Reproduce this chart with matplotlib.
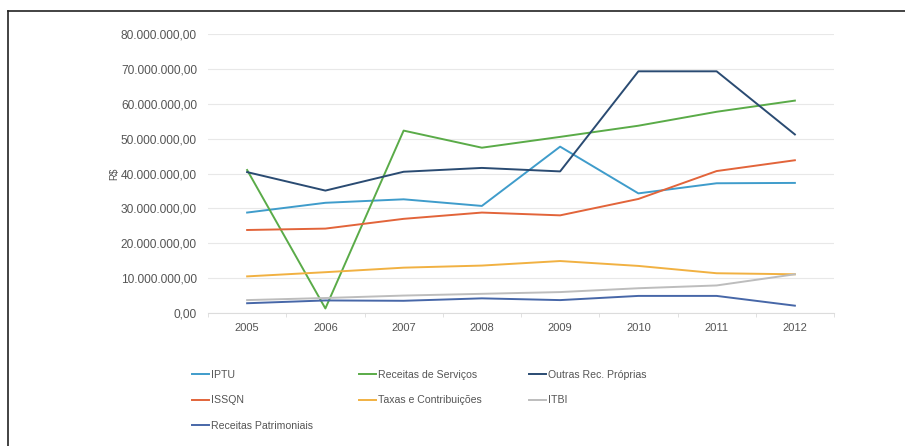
import matplotlib.pyplot as plt
from matplotlib.lines import Line2D
from matplotlib.ticker import FuncFormatter, FixedLocator
import numpy as np

plt.rcParams['font.family'] = ['Liberation Sans', 'DejaVu Sans']

# data (R$)
anos = ['2005', '2006', '2007', '2008', '2009', '2010', '2011', '2012']
iptu = [28.8e6, 31.6e6, 32.6e6, 30.7e6, 47.7e6, 34.3e6, 37.2e6, 37.3e6]
rec_servicos = [41.0e6, 1.3e6, 52.3e6, 47.4e6, 50.5e6, 53.7e6, 57.7e6, 60.9e6]
outras = [40.4e6, 35.1e6, 40.5e6, 41.6e6, 40.6e6, 69.3e6, 69.3e6, 51.2e6]
issqn = [23.8e6, 24.2e6, 27.0e6, 28.8e6, 28.0e6, 32.7e6, 40.7e6, 43.8e6]
taxas = [10.5e6, 11.7e6, 13.0e6, 13.6e6, 14.9e6, 13.5e6, 11.4e6, 11.1e6]
itbi = [3.7e6, 4.3e6, 5.0e6, 5.5e6, 6.0e6, 7.1e6, 7.9e6, 11.1e6]
rec_patrimoniais = [2.8e6, 3.6e6, 3.5e6, 4.2e6, 3.7e6, 4.9e6, 4.9e6, 2.1e6]

series = [
    ('IPTU', iptu, '#3f9ccb'),
    ('Receitas de Serviços', rec_servicos, '#5aab48'),
    ('Outras Rec. Próprias', outras, '#2a4b72'),
    ('ISSQN', issqn, '#e2643a'),
    ('Taxas e Contribuições', taxas, '#f1b142'),
    ('ITBI', itbi, '#bdbdbd'),
    ('Receitas Patrimoniais', rec_patrimoniais, '#4767a8'),
]

fig = plt.figure(figsize=(9.05, 4.46), dpi=100)
ax = fig.add_axes([208 / 905, 1 - 313 / 446, 626 / 905, 279 / 446])

x = np.arange(len(anos))
handles = {}
for nome, vals, cor in series:
    h, = ax.plot(x, vals, color=cor, lw=1.4, label=nome, solid_joinstyle='round')
    handles[nome] = h

ax.set_xlim(-0.5, len(anos) - 0.5)
ax.set_ylim(0, 80e6)
ax.set_yticks(np.arange(0, 80e6 + 1, 10e6))

def fmt_brl(v, pos):
    s = f'{v:,.2f}'
    return s.replace(',', 'X').replace('.', ',').replace('X', '.')

ax.yaxis.set_major_formatter(FuncFormatter(fmt_brl))
ax.set_xticks(x)
ax.set_xticklabels(anos)
ax.xaxis.set_minor_locator(FixedLocator(np.arange(-0.5, len(anos), 1.0)))

ax.grid(axis='y', color='#e8e8e8', lw=0.8)
ax.set_axisbelow(True)
for s in ['top', 'right', 'left']:
    ax.spines[s].set_visible(False)
ax.spines['bottom'].set_color('#dcdcdc')
ax.tick_params(axis='y', length=0, pad=8, labelsize=8.6, labelcolor='#555555')
ax.tick_params(axis='x', which='major', length=0, pad=7, labelsize=8, labelcolor='#555555')
ax.tick_params(axis='x', which='minor', length=3, color='#dcdcdc')

ax.set_ylabel('R$', fontsize=7, color='#555555', labelpad=1)

# legend, filled row by row
ordem = ['IPTU', 'ISSQN', 'Receitas Patrimoniais',
         'Receitas de Serviços', 'Taxas e Contribuições',
         'Outras Rec. Próprias', 'ITBI']
leg = fig.legend([handles[n] for n in ordem], ordem, loc='upper left',
                 bbox_to_anchor=(192 / 905, 1 - 370 / 446), ncol=3, frameon=False,
                 fontsize=7.6, handlelength=1.6, handletextpad=0.2,
                 labelspacing=1.45, columnspacing=4.4, borderpad=0, borderaxespad=0)
for t in leg.get_texts():
    t.set_color('#555555')

# frame lines (top and left only)
fig.add_artist(Line2D([8 / 905, 1], [1 - 11 / 446, 1 - 11 / 446], color='#222222', lw=1.2,
                      transform=fig.transFigure))
fig.add_artist(Line2D([8 / 905, 8 / 905], [0, 1 - 11 / 446], color='#222222', lw=1.2,
                      transform=fig.transFigure))

fig.savefig('out.png', dpi=100)
